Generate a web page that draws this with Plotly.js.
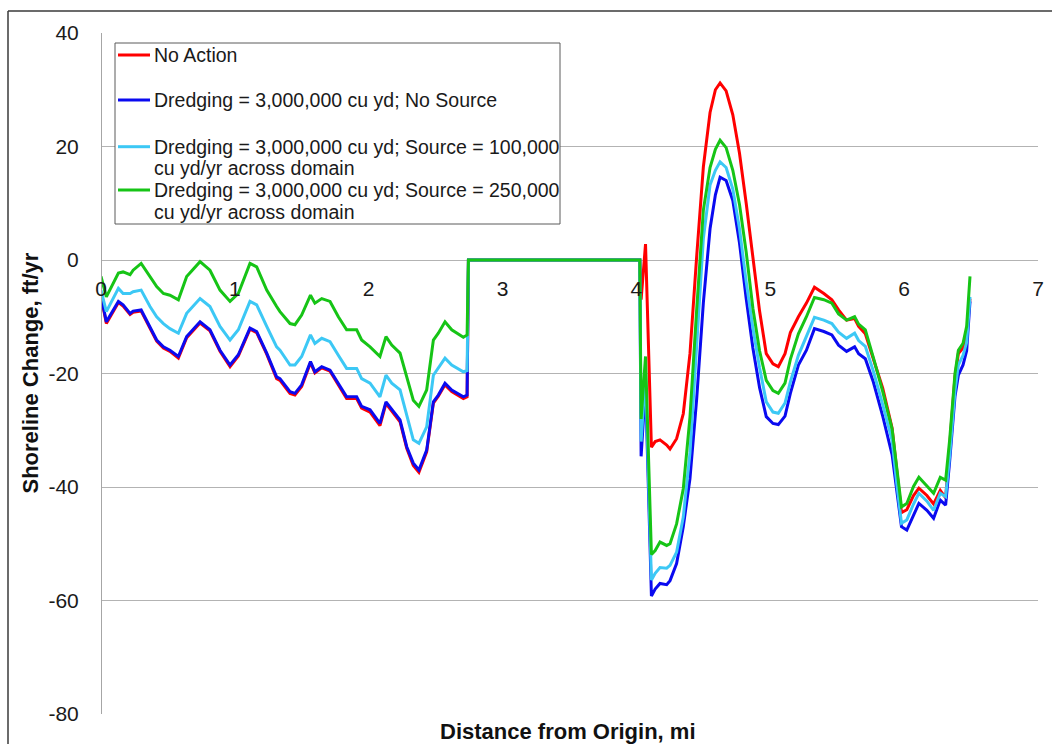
<!DOCTYPE html>
<html>
<head>
<meta charset="utf-8">
<script src="https://cdn.plot.ly/plotly-3.0.1.min.js"></script>
<style>
  html, body { margin: 0; padding: 0; background: #ffffff; }
  #chart { width: 1052px; height: 744px; }
</style>
</head>
<body>
<div id="chart"></div>
<script>
// ---- Data ----
const distanceMi = [
  0, 0.04, 0.13, 0.165, 0.217, 0.24, 0.30, 0.366, 0.416, 0.466, 0.515, 0.578, 0.64, 0.74, 0.814, 0.889, 0.964, 1.026, 1.113, 1.163,
  1.238, 1.312, 1.337, 1.412, 1.449, 1.499, 1.565, 1.598, 1.649, 1.711, 1.773, 1.835, 1.910, 1.947, 2.01, 2.084, 2.129, 2.172, 2.234, 2.284,
  2.333, 2.375, 2.433, 2.483, 2.52, 2.57, 2.62, 2.707, 2.735, 2.745,
  4.025, 4.035, 4.068, 4.112, 4.14, 4.176, 4.226, 4.251, 4.30, 4.35, 4.40, 4.45, 4.50, 4.55, 4.59, 4.625, 4.67, 4.72, 4.77, 4.82,
  4.87, 4.92, 4.97, 5.02, 5.06, 5.11, 5.15, 5.21, 5.27, 5.33, 5.40, 5.46, 5.51, 5.57, 5.63, 5.66, 5.71, 5.77, 5.84, 5.91,
  5.945, 5.98, 6.02, 6.07, 6.11, 6.17, 6.22, 6.27, 6.31, 6.34, 6.38, 6.405, 6.44, 6.467, 6.492
];

const noAction = [
  -6.4, -11.2, -7.5, -8.1, -9.6, -9.2, -9.0, -11.9, -14.3, -15.5, -16.1, -17.3, -13.7, -11.1, -12.5, -16.1, -18.8, -16.9, -12.2, -12.8,
  -16.6, -20.9, -21.2, -23.5, -23.8, -22.3, -18.1, -19.9, -19.0, -19.6, -21.9, -24.4, -24.4, -26.1, -26.8, -29.2, -25.3, -26.7, -28.5, -33.2,
  -36.2, -37.4, -33.8, -25.2, -24.0, -22.0, -23.2, -24.4, -24.1, 0,
  0, -7, 2.8, -33.0, -32.0, -31.7, -32.6, -33.3, -31.5, -27.1, -16.5, 0.6, 16.4, 26.0, 30.0, 31.2, 29.8, 25.6, 18.8, 10.0,
  0.0, -9.0, -16.5, -18.3, -18.8, -16.5, -12.8, -10.0, -7.6, -4.8, -5.9, -7.0, -8.8, -10.6, -10.3, -11.7, -13.0, -17.6, -22.6, -29.6,
  -36.5, -44.5, -44.0, -41.5, -40.2, -41.5, -43.0, -40.6, -41.9, -33.0, -20.5, -16.5, -15.5, -13.0, -6.8
];

const dredgeNoSource = [
  -6.2, -10.9, -7.3, -7.9, -9.4, -9.0, -8.8, -11.7, -14.1, -15.3, -15.9, -17.0, -13.5, -10.9, -12.3, -15.9, -18.5, -16.7, -12.0, -12.6,
  -16.4, -20.6, -20.9, -23.2, -23.5, -22.0, -17.9, -19.7, -18.8, -19.4, -21.7, -24.1, -24.1, -25.8, -26.4, -28.8, -25.0, -26.4, -28.2, -32.9,
  -35.8, -37.0, -33.5, -25.0, -23.8, -21.7, -22.9, -24.1, -23.8, 0,
  0, -34.6, -22, -59.2, -58.0, -57.0, -57.2, -56.5, -53.5, -47.0, -38.5, -24.5, -7.5, 5.5, 11.5, 14.6, 14.0, 10.5, 3.0, -6.8,
  -15.5, -22.5, -27.6, -28.8, -29.0, -27.5, -23.5, -18.5, -15.9, -12.1, -12.6, -13.2, -15.0, -16.1, -15.3, -16.5, -17.4, -21.5, -27.5, -34.3,
  -41.1, -47.0, -47.6, -45.0, -42.9, -44.1, -45.5, -42.3, -43.2, -35.5, -24.0, -20.3, -18.5, -16.0, -7.3
];

const dredgeSource100k = [
  -5.3, -9.1, -5.0, -5.9, -5.9, -5.6, -5.3, -8.2, -10.0, -11.2, -12.1, -12.9, -9.4, -6.8, -8.2, -11.7, -14.1, -12.3, -7.3, -7.9,
  -11.7, -15.3, -15.9, -18.5, -18.5, -17.0, -13.2, -14.7, -13.8, -14.4, -16.8, -19.1, -19.1, -20.9, -21.7, -24.1, -20.3, -21.7, -22.9, -27.6,
  -31.7, -32.3, -29.4, -20.3, -19.1, -17.3, -18.5, -19.7, -19.5, 0,
  0, -32, -20, -56.4, -55.2, -54.2, -54.3, -53.8, -51.5, -45.3, -34.0, -15.2, 3.8, 13.2, 15.8, 17.3, 16.3, 12.5, 5.5, -3.8,
  -12.0, -19.0, -25.0, -26.8, -27.0, -25.2, -21.5, -16.8, -13.5, -10.1, -10.6, -11.2, -12.7, -13.8, -12.9, -14.2, -15.2, -19.6, -25.5, -31.8,
  -39.4, -46.4, -45.8, -43.0, -41.1, -42.5, -44.1, -41.1, -41.7, -34.5, -23.0, -18.5, -16.8, -14.5, -6.5
];

const dredgeSource250k = [
  -2.9, -6.5, -2.3, -2.1, -2.6, -1.8, -0.6, -2.9, -4.7, -5.9, -6.2, -7.0, -2.9, -0.3, -1.8, -5.3, -7.3, -5.9, -0.6, -1.2,
  -5.3, -8.2, -9.1, -11.2, -11.4, -9.7, -6.2, -7.6, -6.8, -7.3, -10.0, -12.3, -12.3, -14.1, -15.3, -17.0, -13.5, -15.0, -16.4, -20.6,
  -24.7, -25.8, -22.9, -14.1, -12.9, -10.9, -12.3, -13.6, -13.2, 0,
  0, -28, -17, -51.9, -51.2, -49.7, -50.3, -50.0, -46.5, -40.3, -27.7, -8.8, 8.8, 16.3, 19.5, 21.1, 19.8, 15.8, 9.8, 1.4,
  -8.5, -16.0, -21.2, -23.0, -23.5, -21.7, -17.5, -13.0, -10.0, -6.6, -7.0, -7.6, -9.5, -10.6, -10.0, -11.3, -12.3, -17.2, -23.2, -29.8,
  -36.4, -43.5, -42.9, -39.9, -38.3, -39.9, -41.1, -38.3, -38.8, -31.7, -20.0, -15.9, -14.7, -11.7, -2.9
];

const seriesNames = [
  "No Action",
  "Dredging = 3,000,000 cu yd; No Source",
  "Dredging = 3,000,000 cu yd; Source = 100,000<br>cu yd/yr across domain",
  "Dredging = 3,000,000 cu yd; Source = 250,000<br>cu yd/yr across domain"
];
const seriesColors = ["#ff0000", "#0a0af0", "#3cc8f5", "#16c416"];
const seriesValues = [noAction, dredgeNoSource, dredgeSource100k, dredgeSource250k];

const xTickVals = [0, 1, 2, 3, 4, 5, 6, 7];
const xTickText = ["0", "1", "2", "3", "4", "5", "6", "7"];
const yTickVals = [-80, -60, -40, -20, 0, 20, 40];
const yTickText = ["-80", "-60", "-40", "-20", "0", "20", "40"];

const xTitle = "Distance from Origin, mi";
const yTitle = "Shoreline Change, ft/yr";

// ---- Geometry helpers (pixel -> paper) ----
const PL = 101, PR = 1038, PT = 33, PB = 714;
const px = v => (v - PL) / (PR - PL);
const py = v => (PB - v) / (PB - PT);

const FONT = "Liberation Sans, Arial, sans-serif";

const traces = seriesValues.map((vals, i) => ({
  type: "scatter",
  mode: "lines",
  x: distanceMi,
  y: vals,
  name: seriesNames[i].replace("<br>", " "),
  line: { color: seriesColors[i], width: 3 },
  showlegend: false,
  hoverinfo: "skip"
}));

const shapes = [];
const annotations = [];

// outer frame (left and top edges visible)
shapes.push({ type: "line", xref: "paper", yref: "paper", x0: px(8), x1: px(8), y0: py(11), y1: py(760),
  line: { color: "#3a3a3a", width: 1.5 } });
shapes.push({ type: "line", xref: "paper", yref: "paper", x0: px(8), x1: px(1070), y0: py(11), y1: py(11),
  line: { color: "#3a3a3a", width: 1.5 } });

// legend box
shapes.push({ type: "rect", xref: "paper", yref: "paper", x0: px(115), x1: px(560), y0: py(43), y1: py(224),
  line: { color: "#5a5a5a", width: 1 }, fillcolor: "#ffffff", layer: "above" });

const legendY = [55, 100, 146.7, 190];
seriesNames.forEach((nm, i) => {
  shapes.push({ type: "line", xref: "paper", yref: "paper", x0: px(118), x1: px(150), y0: py(legendY[i]), y1: py(legendY[i]),
    line: { color: seriesColors[i], width: 3 }, layer: "above" });
  nm.split("<br>").forEach((ln, k) => {
    annotations.push({ xref: "paper", yref: "paper", x: px(152), y: py(legendY[i] + k * 21.5),
      xanchor: "left", yanchor: "middle", showarrow: false, text: ln,
      font: { family: FONT, size: 19.5, color: "#1a1a1a" } });
  });
});

// axis titles
annotations.push({ xref: "paper", yref: "paper", x: px(30), y: 0.5, textangle: -90,
  xanchor: "center", yanchor: "middle", showarrow: false, text: "<b>" + yTitle + "</b>",
  font: { family: FONT, size: 22, color: "#111" } });
annotations.push({ xref: "paper", yref: "paper", x: px(568), y: py(731),
  xanchor: "center", yanchor: "middle", showarrow: false, text: "<b>" + xTitle + "</b>",
  font: { family: FONT, size: 22, color: "#111" } });

const layout = {
  width: 1052, height: 744,
  margin: { l: PL, r: 1052 - PR, t: PT, b: 744 - PB, pad: 0 },
  paper_bgcolor: "#ffffff", plot_bgcolor: "#ffffff",
  showlegend: false,
  xaxis: {
    range: [0, 7], tickmode: "array", tickvals: xTickVals, ticktext: xTickText,
    showgrid: false, zeroline: false, showline: false,
    anchor: "free", position: 80 / 120, ticks: "", ticklabelstandoff: 14,
    tickfont: { family: FONT, size: 21, color: "#1a1a1a" }, fixedrange: true
  },
  yaxis: {
    range: [-80, 40], tickmode: "array", tickvals: yTickVals, ticktext: yTickText,
    showgrid: true, gridcolor: "#b3b3b3", gridwidth: 1,
    zeroline: false, showline: true, linecolor: "#a6a6a6", linewidth: 1,
    anchor: "free", position: 0, ticks: "", ticklabelstandoff: 18,
    tickfont: { family: FONT, size: 21, color: "#1a1a1a" }, fixedrange: true
  },
  shapes: shapes,
  annotations: annotations
};

Plotly.newPlot("chart", traces, layout, { displayModeBar: false, staticPlot: true });
</script>
</body>
</html>
